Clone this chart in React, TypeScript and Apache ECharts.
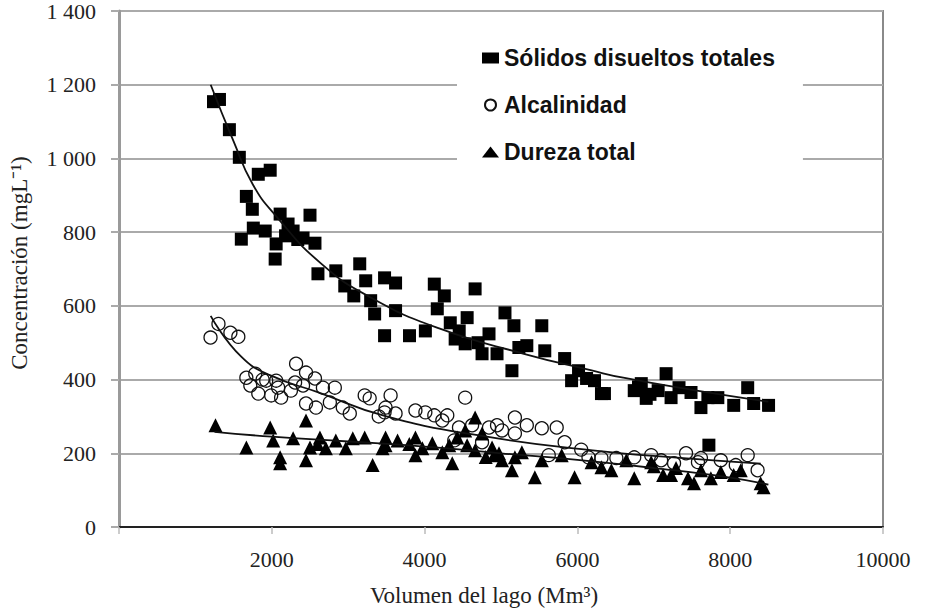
import React, { useEffect, useRef } from "react";
import * as echarts from "echarts";

const seriesNames = ["Sólidos disueltos totales", "Alcalinidad", "Dureza total"];
const xAxisName = "Volumen del lago (Mm³)";
const yAxisName = "Concentración (mgL⁻¹)";
const xTickValues = [0, 2000, 4000, 6000, 8000, 10000];
const yTickValues = [0, 200, 400, 600, 800, 1000, 1200, 1400];

const solidos: [number, number][] = [
  [1237, 1154], [1315, 1160], [1445, 1078], [1575, 1003], [1823, 957], [1979, 968],
  [1667, 897], [1745, 862], [1601, 781], [1758, 811], [1914, 803], [2109, 849],
  [2213, 822], [2057, 768], [2044, 727], [2279, 803], [2500, 846], [2409, 784],
  [2565, 770], [2604, 687], [2838, 695], [2955, 654], [3151, 714], [3229, 668],
  [3073, 627], [3294, 614], [3476, 676], [3620, 662], [3346, 578], [3620, 587],
  [3476, 519], [3802, 519], [4010, 532], [4127, 659], [4258, 627], [4166, 592],
  [4661, 646], [4336, 554], [4453, 532], [4557, 568], [4531, 497], [4752, 470],
  [4843, 524], [4948, 470], [5052, 581], [5169, 546], [5143, 424], [5234, 487],
  [5338, 492], [5534, 546], [5573, 478], [5833, 457], [5924, 397], [6015, 424],
  [6120, 403], [6224, 397], [6354, 362], [6315, 362], [6744, 370], [6836, 389],
  [6901, 349], [7161, 416], [7057, 370], [7226, 351], [7330, 378], [7487, 365],
  [7617, 324], [7708, 351], [7838, 351], [8046, 330], [8229, 378], [8307, 335],
  [8502, 330], [7721, 222], [2180, 790], [2340, 780], [4400, 510], [4700, 500],
  [6950, 360], [6800, 380]
];

const alcalinidad: [number, number][] = [
  [1198, 514], [1302, 551], [1458, 527], [1562, 516], [1667, 405], [1784, 416],
  [1719, 384], [1823, 362], [1927, 397], [1992, 357], [2057, 397], [2122, 351],
  [2083, 378], [2318, 443], [2448, 419], [2305, 392], [2409, 384], [2565, 403],
  [2669, 378], [2825, 378], [2448, 335], [2578, 324], [2760, 338], [2929, 324],
  [3021, 308], [3216, 357], [3281, 349], [3489, 324], [3476, 311], [3555, 357],
  [3620, 308], [3880, 316], [4010, 311], [4127, 303], [4232, 289], [4531, 351],
  [4297, 303], [4388, 235], [4622, 276], [4752, 230], [4843, 270], [4948, 276],
  [5013, 262], [5182, 297], [5338, 276], [5534, 268], [5729, 270], [5182, 254],
  [5833, 230], [5625, 195], [6145, 189], [6315, 187], [6510, 187], [6744, 189],
  [6966, 195], [7096, 181], [7265, 173], [7422, 200], [7578, 176], [7617, 187],
  [7877, 181], [8073, 168], [8229, 195], [8359, 154], [1880, 400], [2250, 370],
  [3400, 300], [4450, 270], [6050, 210]
];

const dureza: [number, number][] = [
  [1263, 276], [1667, 216], [1979, 270], [2018, 235], [2109, 189], [2109, 173],
  [2279, 241], [2448, 289], [2448, 181], [2500, 216], [2630, 243], [2708, 214],
  [2838, 235], [2969, 214], [3060, 241], [3216, 243], [3320, 168], [3489, 243],
  [3450, 214], [3489, 222], [3646, 235], [3880, 195], [3880, 243], [3971, 214],
  [4101, 227], [4232, 203], [4323, 222], [4362, 173], [4427, 243], [4531, 262],
  [4557, 222], [4661, 297], [4661, 208], [4752, 254], [4883, 216], [4909, 195],
  [4974, 200], [5013, 181], [5143, 154], [5182, 189], [5273, 203], [5443, 135],
  [5534, 181], [5794, 195], [5963, 135], [6185, 176], [6315, 162], [6445, 154],
  [6640, 181], [6744, 132], [6966, 176], [7122, 141], [7226, 141], [7291, 160],
  [7448, 132], [7526, 119], [7617, 154], [7747, 132], [7877, 149], [8046, 141],
  [8138, 154], [8398, 119], [8437, 108], [2600, 225], [3800, 225], [4800, 190],
  [7000, 165]
];

const solidosTrend: [number, number][] = [
  [1200, 1200], [1500, 1046], [1750, 930], [2050, 845], [2650, 714], [3300, 622],
  [4200, 538], [5300, 470], [6200, 424], [6600, 405], [7500, 372], [8500, 340]
];

const alcalinidadTrend: [number, number][] = [
  [1200, 573], [1600, 462], [2000, 410], [2600, 366], [3500, 300], [4750, 247],
  [6200, 208], [7300, 188], [8400, 172]
];

const durezaTrend: [number, number][] = [
  [1250, 258], [2000, 245], [3000, 232], [4000, 218], [5000, 200], [6000, 182],
  [7000, 160], [8000, 134], [8500, 115]
];

const serif = "'Liberation Serif', 'Times New Roman', serif";
const sans = "'Liberation Sans', Arial, sans-serif";

function yLabel(v: number): string {
  if (v >= 1000) {
    const th = Math.floor(v / 1000);
    const rest = String(v % 1000).padStart(3, "0");
    return th + " " + rest;
  }
  return String(v);
}

export default function App() {
  const ref = useRef<HTMLDivElement>(null);

  useEffect(() => {
    if (!ref.current) return;
    const chart = echarts.init(ref.current, undefined, { renderer: "svg" });
    const trendStyle = { color: "#111", width: 1.8 };
    chart.setOption({
      animation: false,
      backgroundColor: "#fff",
      grid: {
        left: 115,
        right: 42,
        top: 10,
        bottom: 85,
        show: true,
        borderColor: "#8a8a8a",
        borderWidth: 2,
        backgroundColor: "transparent",
      },
      legend: {
        data: seriesNames,
        orient: "vertical",
        left: 457,
        top: 30,
        padding: [15, 28, 15, 25],
        backgroundColor: "#fff",
        itemWidth: 17,
        itemHeight: 11,
        itemGap: 21,
        selectedMode: false,
        textStyle: {
          fontFamily: sans,
          fontWeight: "bold",
          fontSize: 23,
          lineHeight: 26,
          color: "#111",
        },
      },
      xAxis: {
        type: "value",
        min: xTickValues[0],
        max: xTickValues[xTickValues.length - 1],
        interval: 2000,
        name: xAxisName,
        nameLocation: "middle",
        nameGap: 57,
        nameTextStyle: {
          fontFamily: serif,
          fontSize: 23,
          color: "#222",
          padding: [0, 34, 0, 0],
        },
        axisLine: { show: true, onZero: false, lineStyle: { color: "#222", width: 2 } },
        axisTick: { show: true, length: 7, lineStyle: { color: "#bbb", width: 1.5 } },
        axisLabel: {
          fontFamily: serif,
          fontSize: 22,
          color: "#222",
          margin: 21,
          formatter: (v: number) => (v === 0 ? "" : String(v)),
        },
        splitLine: { show: false },
      },
      yAxis: {
        type: "value",
        min: yTickValues[0],
        max: yTickValues[yTickValues.length - 1],
        interval: 200,
        name: yAxisName,
        nameLocation: "middle",
        nameGap: 88,
        nameTextStyle: {
          fontFamily: serif,
          fontSize: 23,
          color: "#222",
          padding: [0, 0, 0, 12],
        },
        axisLine: { show: true, lineStyle: { color: "#9a9a9a", width: 3 } },
        axisTick: { show: true, length: 8, lineStyle: { color: "#aaa", width: 2 } },
        axisLabel: {
          fontFamily: serif,
          fontSize: 22,
          color: "#222",
          margin: 23,
          formatter: (v: number) => yLabel(v),
        },
        splitLine: { show: true, lineStyle: { color: "#aaa", width: 2 } },
      },
      series: [
        {
          name: seriesNames[0],
          type: "scatter",
          symbol: "rect",
          symbolSize: 13,
          data: solidos,
          itemStyle: { color: "#000", opacity: 1 },
          silent: true,
          z: 3,
        },
        {
          name: seriesNames[1],
          type: "scatter",
          symbol: "circle",
          symbolSize: 13,
          data: alcalinidad,
          itemStyle: { color: "rgba(255,255,255,0)", borderColor: "#111", borderWidth: 1.3, opacity: 1 },
          silent: true,
          z: 3,
        },
        {
          name: seriesNames[2],
          type: "scatter",
          symbol: "triangle",
          symbolSize: 14,
          data: dureza,
          itemStyle: { color: "#000", opacity: 1 },
          silent: true,
          z: 3,
        },
        {
          name: "trend-solidos",
          type: "line",
          data: solidosTrend,
          smooth: true,
          showSymbol: false,
          lineStyle: trendStyle,
          silent: true,
          z: 4,
        },
        {
          name: "trend-alcalinidad",
          type: "line",
          data: alcalinidadTrend,
          smooth: true,
          showSymbol: false,
          lineStyle: trendStyle,
          silent: true,
          z: 4,
        },
        {
          name: "trend-dureza",
          type: "line",
          data: durezaTrend,
          smooth: true,
          showSymbol: false,
          lineStyle: trendStyle,
          silent: true,
          z: 4,
        },
      ],
    });
    return () => chart.dispose();
  }, []);

  return (
    <div
      ref={ref}
      style={{ position: "fixed", left: 0, top: 0, width: 925, height: 612, background: "#fff" }}
    />
  );
}
